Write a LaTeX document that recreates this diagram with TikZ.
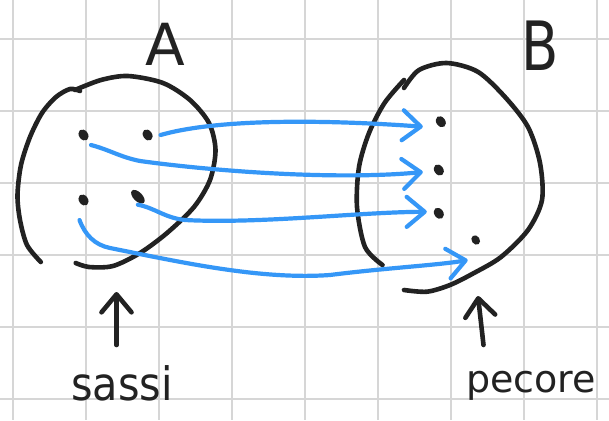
\documentclass[tikz,border=0pt]{standalone}
\usepackage{fontspec}
\setmainfont{DejaVu Sans}
\usetikzlibrary{arrows.meta,shapes.geometric,calc}

\definecolor{ink}{HTML}{222222}
\definecolor{mapblue}{HTML}{3597F7}
\definecolor{gridgray}{HTML}{D6D6D6}

\begin{document}
\begin{tikzpicture}[
    x=1pt, y=-1pt,
    gridline/.style={gridgray, line width=1.8pt},
    blob/.style={ink, line width=4.6pt, line cap=round, line join=round},
    dot/.style={ellipse, fill=ink, minimum width=9pt, minimum height=12pt, inner sep=0pt, rotate=35},
    maps/.style={mapblue, line width=4.2pt, line cap=round,
        -{Straight Barb[length=18pt, width=30pt, line cap=round, line join=round]}},
    pointer/.style={ink, line width=4.6pt, line cap=round,
        -{Straight Barb[length=18pt, width=30pt, line cap=round, line join=round]}},
    setname/.style={text=ink, font=\fontsize{58}{62}\selectfont, anchor=base, inner sep=0pt},
    tag/.style={text=ink, font=\fontsize{#1}{#1}\selectfont, anchor=base, inner sep=0pt}
]

\useasboundingbox (0,0) rectangle (609,420);
\fill[white] (0,0) rectangle (609,420);

% squared paper
\foreach \k in {0,...,8}
    \draw[gridline] ({13.3+73*\k},0) -- ({13.3+73*\k},420);
\foreach \k in {0,...,5}
    \draw[gridline] (0,{39.3+72*\k}) -- (609,{39.3+72*\k});

% set A, two strokes
\draw[blob] plot[smooth] coordinates {(40.8,262) (27,245) (20,220) (17.5,195) (21,165)
    (30,137) (42,113) (56,97) (70,89) (80,91)};
\draw[blob] plot[smooth] coordinates {(75,90) (101,80) (128,76) (163,83) (190,100)
    (209,123) (215.5,150) (210,180) (194,207) (167,233) (140,253) (113,266) (89,267) (75.7,263)};

% set B, two strokes
\draw[blob] plot[smooth] coordinates {(382.5,265) (365,247) (357,207) (359,167)
    (369,133) (384.5,103) (404,80)};
\draw[blob] plot[smooth] coordinates {(404,88) (419,70) (446.6,63) (477.7,71.7) (505,97)
    (528,127) (540,163) (542,200) (528,230) (501,257) (474,273) (450,285) (427,291.7) (404,290)};

% elements
\node[dot] (a1) at (83.5,135) {};
\node[dot] (a2) at (147.6,135) {};
\node[dot] (a3) at (83.5,200) {};
\node[dot, minimum width=9pt, minimum height=17pt, rotate=10] (a4) at (137.9,196.7) {};

\node[dot] (b1) at (440.8,121.7) {};
\node[dot] (b2) at (438.8,170) {};
\node[dot] (b3) at (438.8,213.3) {};
\node[dot, minimum width=8pt, minimum height=10pt] (b4) at (475.7,240) {};

% the map A -> B
\draw[maps] ($(a2)+(13,0)$) .. controls (220,118) and (330,120) .. ($(b1)+(-18,5)$);
\draw[maps] ($(a1)+(7.5,10)$) .. controls (110,150) and (120,157) .. (140,161)
    .. controls (220,172) and (340,180) .. ($(b2)+(-16,2)$);
\draw[maps] ($(a4)+(0,8)$) .. controls (155,208) and (165,218) .. (185,220)
    .. controls (260,224) and (360,212) .. ($(b3)+(-12,-1.5)$);
\draw[maps] ($(a3)+(-4,20)$) .. controls (85,235) and (95,245) .. (110,248)
    .. controls (180,262) and (260,280) .. (330,275)
    .. controls (385,268) and (440,265) .. ($(b4)+(-8,20)$);

% labels
\node[setname] (nameA) at (165,65) {A};
\node[setname, xscale=0.8, font=\fontsize{68}{72}\selectfont] (nameB) at (540,70) {B};

\node[tag=46, xscale=0.9] (sassi) at (122,400) {sassi};
\node[tag=38] (pecore) at (531,392) {pecore};

\coordinate (footA) at (116.5,345);
\coordinate (tipA) at (116.5,292);
\coordinate (footB) at (483.5,345);
\coordinate (tipB) at (478,296);
\draw[pointer] (footA) -- (tipA);
\draw[pointer] (footB) -- (tipB);

\end{tikzpicture}
\end{document}
